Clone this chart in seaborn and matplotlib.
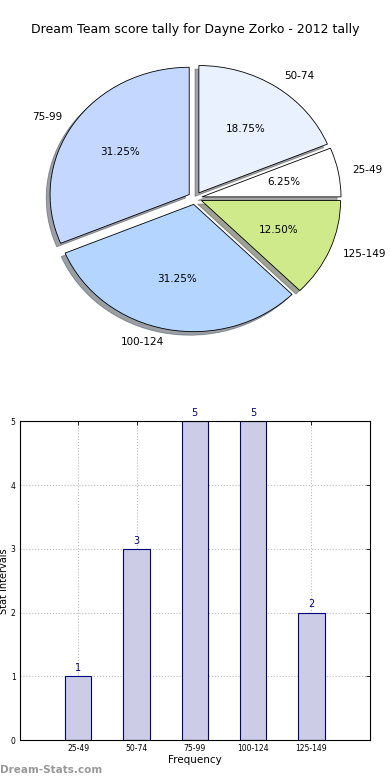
import matplotlib
matplotlib.use("Agg")
import matplotlib.pyplot as plt
import seaborn as sns
import pandas as pd

# data
title = "Dream Team score tally for Dayne Zorko - 2012 tally"
intervals = ["25-49", "50-74", "75-99", "100-124", "125-149"]
counts = [1, 3, 5, 5, 2]

# pie order (clockwise from 12 o'clock)
pie_labels = ["50-74", "25-49", "125-149", "100-124", "75-99"]
pie_counts = [3, 1, 2, 5, 5]
pie_colors = ["#eaf1fe", "#ffffff", "#cfea8b", "#b4d5ff", "#c4d8ff"]
explode = [0.05, 0.05, 0.05, 0.05, 0.05]

sns.set_style("white")
plt.rcParams["font.family"] = ["DejaVu Sans"]
plt.rcParams.update({"text.color": "black", "axes.labelcolor": "black",
                     "xtick.color": "black", "ytick.color": "black"})

fig = plt.figure(figsize=(3.9, 7.8), dpi=100)

# pie chart
ax1 = fig.add_axes([0.054, 0.542, 0.892, 0.408])
wedges, texts, autotexts = ax1.pie(
    pie_counts, labels=pie_labels, colors=pie_colors, explode=explode,
    autopct="%1.2f%%", startangle=90, counterclock=False, shadow=True,
    wedgeprops={"edgecolor": "black", "linewidth": 0.6},
    textprops={"fontsize": 7.5, "color": "black"},
)
ax1.set_aspect("auto")
ax1.set_xlim(-1.25, 1.25)
ax1.set_ylim(-1.25, 1.25)
ax1.axis("off")
fig.text(0.5, 0.962, title, ha="center", va="center", fontsize=9)

# bar chart
df = pd.DataFrame({"interval": intervals, "count": counts})
ax2 = fig.add_axes([0.051, 0.051, 0.897, 0.409])
sns.barplot(data=df, x="interval", y="count", ax=ax2, width=0.45,
            color="#cccce6", edgecolor="#000080", linewidth=0.8,
            saturation=1, zorder=2)
for i, v in enumerate(counts):
    ax2.text(i, v + 0.05, str(v), ha="center", va="bottom", fontsize=7,
             color="#000080", clip_on=False)
ax2.set_xlim(-1, 5)
ax2.set_ylim(0, 5)
ax2.set_yticks(range(6))
ax2.grid(True, linestyle=":", color="#bbbbbb", linewidth=0.8)
for line in ax2.get_xgridlines() + ax2.get_ygridlines():
    line.set_zorder(3)
ax2.tick_params(axis="both", labelsize=5.5, direction="in", length=3,
                top=True, right=True, width=0.6, pad=3)
for s in ax2.spines.values():
    s.set_color("black")
    s.set_linewidth(0.8)
ax2.set_xlabel("Frequency", fontsize=7.5, labelpad=1)
ax2.set_ylabel("Stat Intervals", fontsize=7, labelpad=1)

fig.text(0.0, 0.006, "Dream-Stats.com", fontsize=7.5, color="#999999",
         fontweight="bold", ha="left", va="bottom")

fig.savefig("out.png", dpi=100)
